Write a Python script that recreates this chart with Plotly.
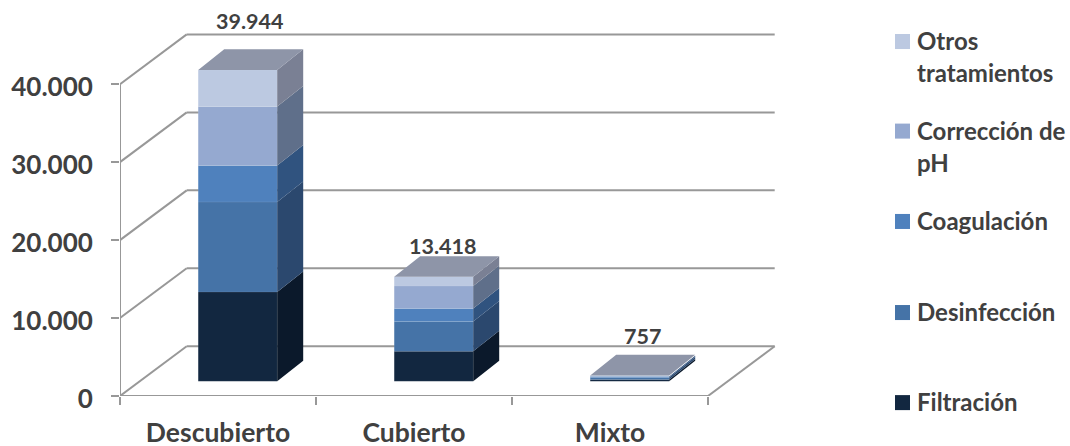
import plotly.graph_objects as go

categories = ["Descubierto", "Cubierto", "Mixto"]
series_names = ["Filtración", "Desinfección", "Coagulación", "Corrección de pH", "Otros tratamientos"]
filtracion = [11460, 3860, 220]
desinfeccion = [11550, 3820, 260]
coagulacion = [4670, 1670, 150]
correccion_ph = [7570, 2870, 80]
otros = [4694, 1198, 47]
totals = [39944, 13418, 757]
total_labels = ["39.944", "13.418", "757"]
y_ticks = [0, 10000, 20000, 30000, 40000]
y_tick_labels = ["0", "10.000", "20.000", "30.000", "40.000"]
legend_lines = [["Filtración"], ["Desinfección"], ["Coagulación"], ["Corrección de", "pH"], ["Otros", "tratamientos"]]

series = [filtracion, desinfeccion, coagulacion, correccion_ph, otros]
front_colors = ["#122740", "#4573a7", "#4f81bd", "#95a9d0", "#bcc9e1"]
side_colors = ["#0b192b", "#2b486e", "#30537f", "#5f6f8a", "#7a8094"]
top_color = "#8e95a8"
grid = "#989898"
text = "#404040"
font = "Lato"

# Plot-area geometry in pixels
W, H = 1070, 446
L, T, R, B = 120, 5, 780, 395.7
PX_X = 196.0           # pixels per category
PX_Y = 77.9 / 10000    # pixels per value unit
x_min, x_max = -0.5, (R - L) / PX_X - 0.5
y_min, y_max = 0, (B - T) / PX_Y

wall_dx, wall_dy = 66.7 / PX_X, 49.7 / PX_Y
bar_x, bar_base = 19.7 / PX_X, 14.7 / PX_Y
bar_w = 79 / PX_X
bar_dx, bar_dy = 26 / PX_X, 20.5 / PX_Y
label_lift = [26 / PX_Y, 7.5 / PX_Y, 16 / PX_Y]
label_shift = [-1 / PX_X, -4 / PX_X, 0]

fig = go.Figure()

shapes = []
def seg(x0, y0, x1, y1):
    shapes.append(dict(type="line", xref="x", yref="y", x0=x0, y0=y0, x1=x1, y1=y1,
                       line=dict(color=grid, width=2), layer="below"))
for v in y_ticks:
    seg(-0.5, v, -0.5 + wall_dx, v + wall_dy)
    seg(-0.5 + wall_dx, v + wall_dy, 2.5 + wall_dx, v + wall_dy)
seg(2.5, 0, 2.5 + wall_dx, wall_dy)
seg(-0.5, 0, 2.5, 0)
seg(-0.5, 0, -0.5, y_ticks[-1])

# Front faces
cum = [bar_base] * len(categories)
bases = []
for vals, col, name in zip(series, front_colors, series_names):
    bases.append(list(cum))
    fig.add_trace(go.Bar(x=[i + bar_x for i in range(len(categories))], y=vals, base=list(cum),
                         width=bar_w, name=name, showlegend=False,
                         marker=dict(color=col, line=dict(color="rgba(255,255,255,0.15)", width=0.5))))
    cum = [c + v for c, v in zip(cum, vals)]

# Side faces
for vals, b, col, name in zip(series, bases, side_colors, series_names):
    xs, ys = [], []
    for i, (v, b0) in enumerate(zip(vals, b)):
        xr = i + bar_x + bar_w / 2
        xs += [xr, xr + bar_dx, xr + bar_dx, xr, xr, None]
        ys += [b0, b0 + bar_dy, b0 + v + bar_dy, b0 + v, b0, None]
    fig.add_trace(go.Scatter(x=xs, y=ys, mode="lines", fill="toself", fillcolor=col,
                             line=dict(width=0), showlegend=False, name=name, hoverinfo="skip"))

# Top faces
xs, ys = [], []
for i, t in enumerate(cum):
    xl = i + bar_x - bar_w / 2
    xr = i + bar_x + bar_w / 2
    xs += [xl, xr, xr + bar_dx, xl + bar_dx, xl, None]
    ys += [t, t, t + bar_dy, t + bar_dy, t, None]
fig.add_trace(go.Scatter(x=xs, y=ys, mode="lines", fill="toself", fillcolor=top_color,
                         line=dict(width=0), showlegend=False, hoverinfo="skip"))

# Total labels
fig.add_trace(go.Scatter(
    x=[i + bar_x + bar_dx / 2 + s for i, s in enumerate(label_shift)],
    y=[t + bar_dy + l for t, l in zip(cum, label_lift)],
    mode="text", text=total_labels, textposition="middle center", cliponaxis=False,
    textfont=dict(family=font, size=21.5, color=text, weight=700), showlegend=False))

# Legend (swatches aligned to the first line of each entry)
def paper_x(px):
    return (px - L) / (R - L)
def paper_y(py):
    return 1 - (py - T) / (B - T)

legend_rows = [402.3, 312.3, 221.3, 131, 41.5]
line_gap = 32
annotations = []
for lines, col, row in zip(legend_lines, front_colors, legend_rows):
    shapes.append(dict(type="rect", xref="paper", yref="paper", x0=paper_x(895), x1=paper_x(910),
                       y0=paper_y(row + 7.5), y1=paper_y(row - 7.5),
                       fillcolor=col, line=dict(width=0)))
    for j, line in enumerate(lines):
        annotations.append(dict(xref="paper", yref="paper", x=paper_x(915), y=paper_y(row - 1 + j * line_gap),
                                xanchor="left", yanchor="middle", text=line, showarrow=False,
                                font=dict(family=font, size=24, color=text, weight=700)))

fig.update_layout(
    width=W, height=H, margin=dict(l=L, r=W - R, t=T, b=H - B, autoexpand=False),
    paper_bgcolor="white", plot_bgcolor="rgba(0,0,0,0)", barmode="overlay", shapes=shapes,
    annotations=annotations, showlegend=False,
    xaxis=dict(range=[x_min, x_max], tickmode="array", tickvals=[0, 1, 2], ticktext=categories,
               ticklen=0, showgrid=False, zeroline=False, showline=False, ticklabelstandoff=18,
               tickfont=dict(family=font, size=26.5, color=text, weight=700),
               minor=dict(tickmode="array", tickvals=[-0.5, 0.5, 1.5, 2.5], ticks="outside",
                          ticklen=8, tickwidth=2, tickcolor=grid, showgrid=False)),
    yaxis=dict(range=[y_min, y_max], tickmode="array", tickvals=y_ticks, ticktext=y_tick_labels,
               ticks="outside", ticklen=8, tickwidth=2, tickcolor=grid, showgrid=False,
               zeroline=False, showline=False, ticklabelstandoff=13, ticklabelshift=3,
               tickfont=dict(family=font, size=26, color=text, weight=700)),
    font=dict(family=font),
)

fig.write_html("out.html", config={"displayModeBar": False},
               post_script="document.body.style.margin='0';document.body.style.overflow='hidden';")
